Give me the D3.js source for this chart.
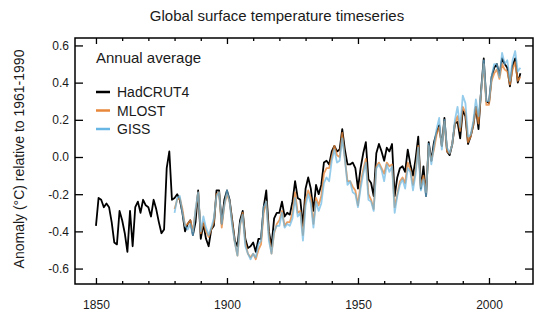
<!DOCTYPE html>
<html>
<head>
<meta charset="utf-8">
<script src="https://cdn.jsdelivr.net/npm/d3@7"></script>
<style>
    body { margin: 0; background: #fff; }
    text { font-family: "Liberation Sans", Arial, Helvetica, sans-serif; fill: #1a1a1a; }
</style>
</head>
<body>
<script>
(function() {
    "use strict";

    //annual anomalies, degC relative to 1961-1990
    var hadYears = d3.range(1850, 2013);
    var hadcrut4 = [
        -0.37, -0.22, -0.23, -0.27, -0.25, -0.27, -0.35, -0.46, -0.47, -0.29,
        -0.34, -0.41, -0.51, -0.29, -0.48, -0.27, -0.24, -0.30, -0.23, -0.26,
        -0.27, -0.32, -0.23, -0.28, -0.35, -0.41, -0.39, -0.06, 0.03, -0.23,
        -0.22, -0.20, -0.23, -0.30, -0.40, -0.36, -0.34, -0.42, -0.35, -0.18,
        -0.44, -0.36, -0.44, -0.48, -0.39, -0.37, -0.18, -0.18, -0.36, -0.23,
        -0.18, -0.23, -0.34, -0.45, -0.48, -0.34, -0.29, -0.44, -0.49, -0.48,
        -0.46, -0.51, -0.44, -0.44, -0.27, -0.18, -0.40, -0.48, -0.33, -0.30,
        -0.30, -0.24, -0.32, -0.30, -0.31, -0.24, -0.13, -0.22, -0.23, -0.37,
        -0.17, -0.11, -0.17, -0.29, -0.15, -0.20, -0.15, -0.03, -0.02, -0.04,
        0.03, 0.06, 0.03, 0.04, 0.15, 0.04, -0.04, -0.04, -0.03, -0.06,
        -0.17, -0.06, 0.02, 0.08, -0.12, -0.14, -0.21, 0.02, 0.07, 0.03,
        -0.02, 0.05, 0.03, 0.07, -0.21, -0.11, -0.06, -0.05, -0.08, 0.04,
        -0.04, -0.10, -0.01, 0.11, -0.17, -0.05, -0.21, 0.08, -0.02, 0.08,
        0.13, 0.17, 0.06, 0.21, 0.03, 0.01, 0.07, 0.18, 0.19, 0.10,
        0.25, 0.22, 0.07, 0.11, 0.17, 0.27, 0.15, 0.36, 0.53, 0.30,
        0.29, 0.43, 0.48, 0.50, 0.44, 0.53, 0.50, 0.48, 0.38, 0.49,
        0.53, 0.40, 0.45
    ];

    var noaaYears = d3.range(1880, 2013);
    var mlost = [
        -0.28, -0.23, -0.22, -0.28, -0.37, -0.36, -0.34, -0.40, -0.29, -0.19,
        -0.41, -0.35, -0.40, -0.43, -0.39, -0.35, -0.20, -0.19, -0.38, -0.26,
        -0.20, -0.24, -0.35, -0.46, -0.53, -0.37, -0.30, -0.46, -0.52, -0.54,
        -0.52, -0.55, -0.50, -0.47, -0.30, -0.24, -0.42, -0.52, -0.41, -0.36,
        -0.34, -0.29, -0.37, -0.35, -0.35, -0.30, -0.19, -0.30, -0.29, -0.42,
        -0.23, -0.18, -0.22, -0.36, -0.22, -0.26, -0.21, -0.09, -0.06, -0.06,
        0.00, 0.06, 0.01, 0.00, 0.13, -0.01, -0.13, -0.13, -0.16, -0.18,
        -0.26, -0.14, -0.07, -0.01, -0.20, -0.23, -0.28, -0.05, -0.03, -0.06,
        -0.09, -0.03, -0.05, -0.04, -0.27, -0.20, -0.13, -0.11, -0.14, -0.03,
        -0.07, -0.15, -0.07, 0.06, -0.16, -0.10, -0.19, 0.06, -0.02, 0.04,
        0.12, 0.16, 0.06, 0.19, 0.03, 0.02, 0.07, 0.18, 0.22, 0.14,
        0.27, 0.24, 0.08, 0.11, 0.17, 0.27, 0.18, 0.35, 0.50, 0.28,
        0.28, 0.41, 0.45, 0.47, 0.42, 0.50, 0.47, 0.46, 0.39, 0.47,
        0.51, 0.41, 0.43
    ];
    var giss = [
        -0.30, -0.22, -0.21, -0.30, -0.37, -0.39, -0.36, -0.42, -0.28, -0.19,
        -0.40, -0.32, -0.38, -0.42, -0.38, -0.33, -0.21, -0.19, -0.36, -0.26,
        -0.18, -0.24, -0.37, -0.46, -0.53, -0.36, -0.31, -0.48, -0.52, -0.55,
        -0.52, -0.54, -0.47, -0.45, -0.27, -0.24, -0.45, -0.52, -0.40, -0.37,
        -0.37, -0.30, -0.38, -0.36, -0.37, -0.33, -0.22, -0.32, -0.30, -0.45,
        -0.26, -0.20, -0.25, -0.38, -0.24, -0.29, -0.25, -0.14, -0.11, -0.13,
        -0.02, 0.04, -0.03, -0.02, 0.10, -0.01, -0.15, -0.13, -0.19, -0.20,
        -0.27, -0.17, -0.09, -0.03, -0.23, -0.24, -0.29, -0.06, -0.04, -0.07,
        -0.13, -0.04, -0.08, -0.05, -0.30, -0.21, -0.15, -0.12, -0.17, -0.06,
        -0.08, -0.18, -0.09, 0.05, -0.18, -0.12, -0.21, 0.07, -0.04, 0.06,
        0.15, 0.21, 0.04, 0.20, 0.05, 0.02, 0.07, 0.20, 0.27, 0.16,
        0.33, 0.29, 0.11, 0.12, 0.19, 0.31, 0.22, 0.35, 0.52, 0.30,
        0.30, 0.43, 0.50, 0.50, 0.43, 0.56, 0.50, 0.52, 0.41, 0.52,
        0.57, 0.46, 0.48
    ];

    var yTicks = [-0.6, -0.4, -0.2, 0.0, 0.2, 0.4, 0.6];
    var xMajor = [1850, 1900, 1950, 2000];
    var xMinor = [1860, 1870, 1880, 1890, 1910, 1920, 1930, 1940, 1960, 1970, 1980, 1990, 2010];

    var seriesNames = ["HadCRUT4", "MLOST", "GISS"];
    var seriesColors = ["#000000", "#e8873a", "#68b6e3"];

    var WIDTH = 550, HEIGHT = 324;
    var LEFT = 75, RIGHT = 533, TOP = 38, BOTTOM = 284;

    var svg = d3.select("body").append("svg")
        .attr("width", WIDTH)
        .attr("height", HEIGHT);

    var x = d3.scaleLinear().domain([1842, 2016.8]).range([LEFT, RIGHT]);
    var y = d3.scaleLinear().domain([-0.683, 0.64]).range([BOTTOM, TOP]);

    //title
    svg.append("text")
        .attr("x", 277)
        .attr("y", 21)
        .attr("text-anchor", "middle")
        .style("font-size", "15px")
        .text("Global surface temperature timeseries");

    //series lines, black first so the others lie on top
    var line = d3.line()
        .x(function(d) { return x(d[0]); })
        .y(function(d) { return y(d[1]); });

    var series = [
        d3.zip(hadYears, hadcrut4),
        d3.zip(noaaYears, mlost),
        d3.zip(noaaYears, giss)
    ];
    var opac = [1, 0.8, 0.7];

    svg.append("g").selectAll("path")
        .data(series)
        .enter()
        .append("path")
        .attr("d", line)
        .attr("fill", "none")
        .attr("stroke", function(d, i) { return seriesColors[i]; })
        .attr("stroke-opacity", function(d, i) { return opac[i]; })
        .attr("stroke-width", 1.8)
        .attr("stroke-linejoin", "round");

    //ticks point into the box on all four sides
    function tickAxis(axis, translate) {
        var g = svg.append("g").attr("transform", translate).call(axis);
        g.select(".domain").remove();
        g.selectAll("line").attr("stroke", "#000").attr("stroke-width", 1.3);
        return g;
    }

    var xb = tickAxis(d3.axisBottom(x).tickValues(xMajor).tickSize(-6).tickPadding(16).tickFormat(d3.format("d")),
        "translate(0," + BOTTOM + ")");
    xb.selectAll("text").style("font-size", "12px").attr("fill", "#1a1a1a");
    tickAxis(d3.axisBottom(x).tickValues(xMinor).tickSize(-3).tickFormat(""), "translate(0," + BOTTOM + ")");
    tickAxis(d3.axisTop(x).tickValues(xMajor).tickSize(-6).tickFormat(""), "translate(0," + TOP + ")");
    tickAxis(d3.axisTop(x).tickValues(xMinor).tickSize(-3).tickFormat(""), "translate(0," + TOP + ")");

    var yl = tickAxis(d3.axisLeft(y).tickValues(yTicks).tickSize(-8).tickPadding(6).tickFormat(d3.format(".1f")),
        "translate(" + LEFT + ",0)");
    yl.selectAll("text").style("font-size", "12px").attr("fill", "#1a1a1a")
        .text(function(d) { return d3.format(".1f")(d).replace("\u2212", "-"); });
    tickAxis(d3.axisRight(y).tickValues(yTicks).tickSize(-8).tickFormat(""), "translate(" + RIGHT + ",0)");

    //frame
    svg.append("rect")
        .attr("x", LEFT)
        .attr("y", TOP)
        .attr("width", RIGHT - LEFT)
        .attr("height", BOTTOM - TOP)
        .attr("fill", "none")
        .attr("stroke", "#000")
        .attr("stroke-width", 1.5);

    //y axis title
    svg.append("text")
        .attr("transform", "translate(24," + ((TOP + BOTTOM) / 2 - 2) + ") rotate(-90)")
        .attr("text-anchor", "middle")
        .style("font-size", "14px")
        .text("Anomaly (\u00B0C) relative to 1961-1990");

    //legend
    svg.append("text")
        .attr("x", 96)
        .attr("y", 63)
        .style("font-size", "15px")
        .text("Annual average");

    var legend = svg.append("g").selectAll("g")
        .data(seriesNames)
        .enter()
        .append("g")
        .attr("transform", function(d, i) { return "translate(96," + (92 + i * 18.5) + ")"; });

    legend.append("line")
        .attr("x1", 0)
        .attr("x2", 14)
        .attr("stroke", function(d, i) { return seriesColors[i]; })
        .attr("stroke-width", 2.5);

    legend.append("text")
        .attr("x", 21)
        .attr("y", 5)
        .style("font-size", "14px")
        .text(function(d) { return d; });
}());
</script>
</body>
</html>
